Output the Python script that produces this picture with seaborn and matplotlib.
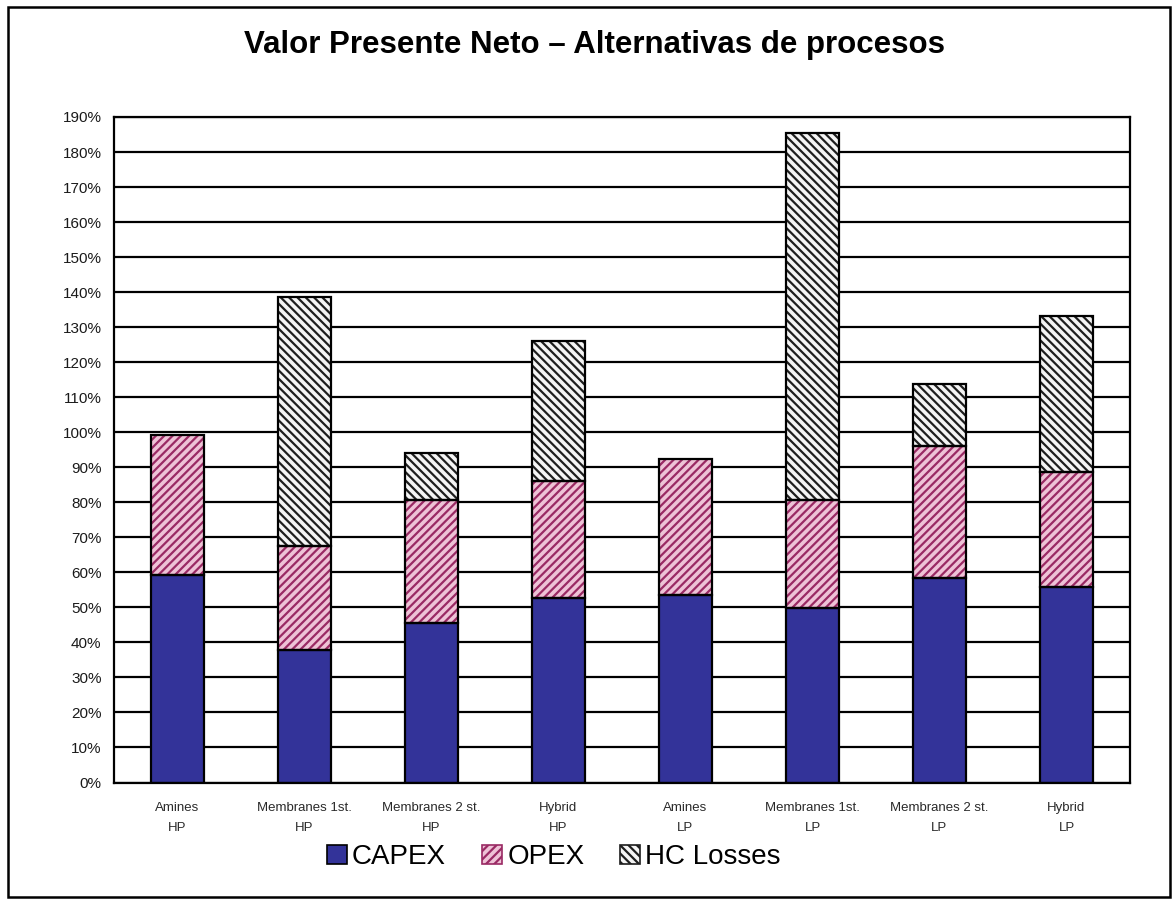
import matplotlib
matplotlib.use("Agg")
import matplotlib.pyplot as plt
from matplotlib.patches import Rectangle
import numpy as np
import pandas as pd
import seaborn as sns

# Process alternatives (two-line tick labels)
categories = [
    "Amines\nHP", "Membranes 1st.\nHP", "Membranes 2 st.\nHP", "Hybrid\nHP",
    "Amines\nLP", "Membranes 1st.\nLP", "Membranes 2 st.\nLP", "Hybrid\nLP",
]
# Stacked components of net present value, in percent
capex = [59.3, 37.8, 45.4, 52.7, 53.5, 49.7, 58.5, 55.7]
opex = [40.0, 29.8, 35.3, 33.4, 38.8, 30.9, 37.6, 33.0]
hc_losses = [0.0, 70.9, 13.3, 40.0, 0.0, 104.8, 17.6, 44.4]

series_names = ["CAPEX", "OPEX", "HC Losses"]
y_ticks = list(range(0, 191, 10))
title = "Valor Presente Neto \u2013 Alternativas de procesos"

sns.set_theme(style="white")
plt.rcParams["font.family"] = ["Liberation Sans", "DejaVu Sans"]
plt.rcParams["hatch.linewidth"] = 1.6

fig = plt.figure(figsize=(11.74, 8.99), dpi=100)
ax = fig.add_axes([114 / 1174, 1 - 782.5 / 899, (1130 - 114) / 1174, (782.5 - 117) / 899])

df = pd.DataFrame({"cat": categories, "CAPEX": capex, "OPEX": opex, "HC": hc_losses})
df["b_opex"] = df["CAPEX"]
df["b_hc"] = df["CAPEX"] + df["OPEX"]

capex_col = "#333399"
opex_face, opex_hatch = "#eec2d6", "#9a2a64"
hc_face, hc_hatch = "#f4f4f4", "#1e1e1e"

bar_w = 0.41
layers = [
    ("CAPEX", None, capex_col, capex_col, None),
    ("OPEX", "b_opex", opex_face, opex_hatch, "////"),
    ("HC", "b_hc", hc_face, hc_hatch, "\\\\\\\\"),
]
for col, bcol, face, hcol, hatch in layers:
    bottom = df[bcol] if bcol else 0
    n0 = len(ax.patches)
    sns.barplot(data=df, x="cat", y=col, bottom=bottom, color=face,
                saturation=1, width=bar_w, ax=ax, linewidth=0,
                edgecolor=hcol, hatch=hatch)
    # black outline on top of each segment
    for p in ax.patches[n0:]:
        if p.get_height() <= 0:
            p.set_visible(False)
            continue
        ax.add_patch(Rectangle(p.get_xy(), p.get_width(), p.get_height(),
                               fill=False, edgecolor="black", linewidth=1.6,
                               zorder=p.get_zorder() + 0.1))

ax.set_ylim(0, 190)
ax.set_xlim(-0.5, len(categories) - 0.5)
ax.set_yticks(y_ticks)
ax.set_yticklabels([f"{t}%" for t in y_ticks], fontsize=11, color="#1a1a1a")
ax.yaxis.grid(True, color="black", linewidth=1.6)
ax.set_axisbelow(True)
ax.tick_params(axis="y", direction="out", length=6, width=1.4, color="black", pad=3)

ax.set_xticks(range(len(categories)))
ax.set_xticklabels(categories, fontsize=9.5, color="#2a2a2a", linespacing=1.85)
ax.tick_params(axis="x", which="major", length=0, pad=14)
ax.set_xticks(np.arange(-0.5, len(categories), 1.0), minor=True)
ax.tick_params(axis="x", which="minor", direction="out", length=6, width=1.4, color="black")
ax.set_xlabel("")
ax.set_ylabel("")
for s in ax.spines.values():
    s.set_visible(True)
    s.set_color("black")
    s.set_linewidth(1.6)

# Legend below the plot
handles = [
    Rectangle((0, 0), 1, 1, facecolor=capex_col, edgecolor="black", linewidth=1.2),
    Rectangle((0, 0), 1, 1, facecolor=opex_face, edgecolor=opex_hatch, hatch="////", linewidth=1.2),
    Rectangle((0, 0), 1, 1, facecolor=hc_face, edgecolor=hc_hatch, hatch="\\\\\\\\", linewidth=1.2),
]
fig.legend(handles, series_names, loc="center", bbox_to_anchor=(554 / 1174, 1 - 857 / 899),
           ncol=3, frameon=False, handlelength=0.7, handleheight=0.7,
           handletextpad=0.2, columnspacing=1.3,
           prop={"family": ["Liberation Sans", "DejaVu Sans"], "size": 20})
for t in fig.legends[0].get_texts():
    t.set_color("black")

fig.text(0.506, 1 - 45 / 899, title, ha="center", va="center", fontsize=22.5,
         fontweight="bold", color="black")

# Outer frame around the whole chart
fig.patches.append(Rectangle((8 / 1174, 2 / 899), 1162 / 1174, 890 / 899,
                             transform=fig.transFigure, fill=False,
                             edgecolor="black", linewidth=1.8))

fig.savefig("out.png", dpi=100)
